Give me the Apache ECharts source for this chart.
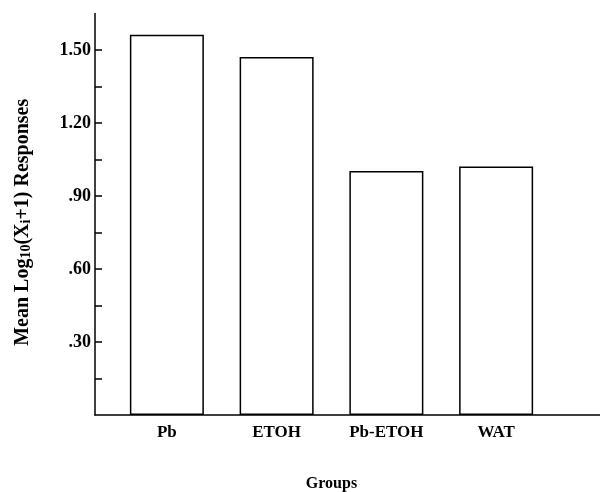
<!DOCTYPE html>
<html>
<head>
<meta charset="utf-8">
<script src="https://cdn.jsdelivr.net/npm/echarts@6/dist/echarts.min.js"></script>
<style>
html,body{margin:0;padding:0;background:#fff;}
#c{width:600px;height:492px;}
</style>
</head>
<body>
<div id="c"></div>
<script>
var categories = ['Pb', 'ETOH', 'Pb-ETOH', 'WAT'];
var meanResponses = [1.563, 1.471, 1.003, 1.021];
var tickValues = [0.15, 0.30, 0.45, 0.60, 0.75, 0.90, 1.05, 1.20, 1.35, 1.50];
var labelValues = [0.30, 0.60, 0.90, 1.20, 1.50];
var tickLabels = ['.30', '.60', '.90', '1.20', '1.50'];

var FONT = 'Liberation Serif';
var chart = echarts.init(document.getElementById('c'));
chart.setOption({
  backgroundColor: '#fff',
  animation: false,
  grid: [
    {left: 112, right: 49, top: 13.5, bottom: 77, outerBoundsMode: 'none', containLabel: false},
    {left: 95, right: 0, top: 13.5, bottom: 77, outerBoundsMode: 'none', containLabel: false}
  ],
  xAxis: [
    {
      type: 'category', gridIndex: 0, data: categories,
      axisLine: {show: false}, axisTick: {show: false},
      axisLabel: {color: '#000', fontFamily: FONT, fontWeight: 'bold', fontSize: 17, margin: 9},
      name: 'Groups', nameLocation: 'middle', nameGap: 61,
      nameTextStyle: {color: '#000', fontFamily: FONT, fontWeight: 'bold', fontSize: 16}
    },
    {
      type: 'value', gridIndex: 1, min: 0, max: 1,
      axisLine: {show: true, lineStyle: {color: '#000', width: 1.5}},
      axisTick: {show: false}, axisLabel: {show: false}, splitLine: {show: false}
    }
  ],
  yAxis: [
    {
      type: 'value', gridIndex: 0, min: 0, max: 1.65,
      show: false, splitLine: {show: false}
    },
    {
      type: 'value', gridIndex: 1, min: 0, max: 1.65,
      splitLine: {show: false},
      axisLine: {show: true, lineStyle: {color: '#000', width: 1.5}},
      axisTick: {show: true, inside: true, length: 7, customValues: tickValues,
                 lineStyle: {color: '#000', width: 1.5}},
      axisLabel: {
        customValues: labelValues,
        color: '#000', fontFamily: FONT, fontWeight: 'bold', fontSize: 18, margin: 4,
        formatter: function (v) {
          for (var i = 0; i < labelValues.length; i++) {
            if (Math.abs(labelValues[i] - v) < 1e-6) return tickLabels[i];
          }
          return '';
        }
      },
      name: 'Mean Log{s|10}(X{s|i}+1) Responses',
      nameLocation: 'middle', nameRotate: 90, nameGap: 62,
      nameTextStyle: {
        color: '#000', fontFamily: FONT, fontWeight: 'bold', fontSize: 20,
        padding: [0, 16, 0, 0],
        rich: {
          s: {color: '#000', fontFamily: FONT, fontWeight: 'bold', fontSize: 14, verticalAlign: 'bottom', padding: [7, 0, 0, 0]}
        }
      }
    }
  ],
  series: [{
    type: 'bar', xAxisIndex: 0, yAxisIndex: 0,
    data: meanResponses, barWidth: 74,
    itemStyle: {color: '#fff', borderColor: '#000', borderWidth: 1.5}
  }]
});
</script>
</body>
</html>
